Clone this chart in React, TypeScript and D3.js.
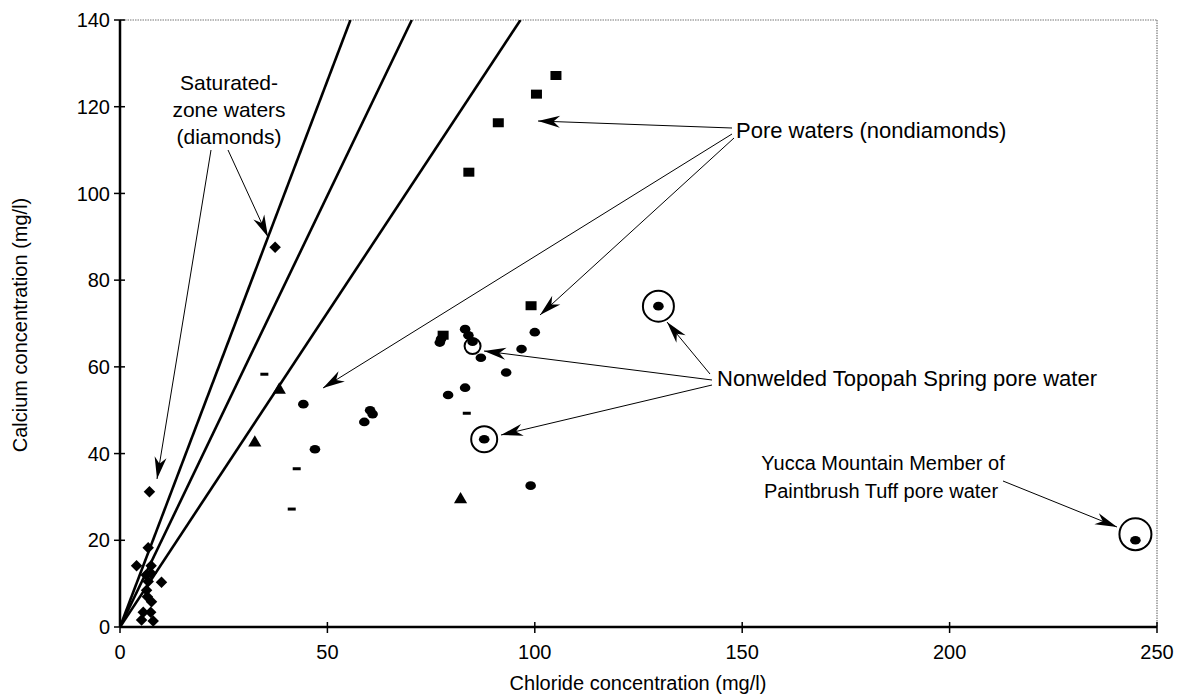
import * as d3 from 'd3';

// saturated-zone waters (diamonds) [chloride, calcium]
const diamonds: [number, number][] = [
  [37.4, 87.6], [7.1, 31.2], [6.8, 18.3], [4.0, 14.1], [7.5, 14.1], [7.5, 12.4],
  [6.3, 12.0], [10.0, 10.3], [6.8, 10.5], [6.4, 8.5], [6.6, 7.0], [7.6, 5.8],
  [5.6, 3.4], [7.4, 3.4], [5.2, 1.6], [8.0, 1.4],
];
// pore waters, round symbols
const dots: [number, number][] = [
  [44.2, 51.4], [60.3, 50.0], [60.9, 49.1], [58.9, 47.3], [47.0, 41.0],
  [83.2, 68.7], [84.0, 67.3], [85.0, 65.8], [77.1, 65.6], [77.4, 66.4], [87.0, 62.1],
  [96.8, 64.1], [100.0, 68.0], [93.1, 58.7], [83.2, 55.2], [79.1, 53.5],
  [87.8, 43.3], [99.0, 32.6], [129.8, 74.0], [244.8, 20.0],
];
const squares: [number, number][] = [
  [105.1, 127.2], [100.4, 122.9], [91.2, 116.3], [84.1, 104.9], [99.1, 74.1], [77.9, 67.3],
];
const triangles: [number, number][] = [[38.4, 54.7], [32.5, 42.5], [82.1, 29.4]];
const dashes: [number, number][] = [[34.8, 58.3], [42.6, 36.5], [41.4, 27.2], [83.6, 49.3]];
// ringed samples [chloride, calcium, ring radius px]
const rings: [number, number, number][] = [
  [85.0, 64.8, 8], [87.8, 43.3, 13], [129.8, 74.0, 15.5], [244.8, 21.4, 16],
];
// Ca/Cl ratio lines through origin
const ratios = [2.52, 1.99, 1.45];

const xTicks = [0, 50, 100, 150, 200, 250];
const yTicks = [0, 20, 40, 60, 80, 100, 120, 140];

const W = 1179;
const H = 696;
const x = d3.scaleLinear().domain([0, 250]).range([120, 1157]);
const y = d3.scaleLinear().domain([0, 140]).range([627, 20]);

const font = "'Liberation Sans', Arial, sans-serif";

// arrows in pixel space: [x1, y1, x2(tip), y2(tip)]
const arrows: [number, number, number, number][] = [
  [228, 150, 268, 237],
  [211, 150, 157, 479],
  [732, 128, 538, 121],
  [732, 134, 323, 388],
  [734, 138, 540, 315],
  [712, 380, 484, 351],
  [710, 374, 667, 322],
  [712, 385, 501, 435],
  [1003, 481, 1117, 527],
];

function arrowHead(x1: number, y1: number, x2: number, y2: number) {
  const a = Math.atan2(y2 - y1, x2 - x1);
  const L = 22;
  const w = 6;
  const pts = [
    [0, 0],
    [-L, w],
    [-0.7 * L, 0],
    [-L, -w],
  ].map(([px, py]) => [
    x2 + px * Math.cos(a) - py * Math.sin(a),
    y2 + px * Math.sin(a) + py * Math.cos(a),
  ]);
  return 'M' + pts.map((p) => p.join(',')).join('L') + 'Z';
}

const triPath = d3.symbol(d3.symbolTriangle, 75)()!;
const diaPath = d3.symbol(d3.symbolSquare, 66)()!;

export default function App() {
  return (
    <svg width={W} height={H} style={{ position: 'absolute', left: 0, top: 0, background: '#fff' }} fontFamily={font}>
      <defs>
        <clipPath id="plot">
          <rect x={x(0)} y={y(140)} width={x(250) - x(0)} height={y(0) - y(140)} />
        </clipPath>
      </defs>
      {/* frame */}
      <line x1={x(0)} x2={x(250)} y1={y(140)} y2={y(140)} stroke="#777" strokeDasharray="1.5,1" strokeWidth={1.2} />
      <line x1={x(250)} x2={x(250)} y1={y(140)} y2={y(0)} stroke="#777" strokeDasharray="1.5,1" strokeWidth={1.2} />
      <line x1={x(0)} x2={x(0)} y1={y(0)} y2={y(140)} stroke="#000" strokeWidth={2.5} />
      <line x1={x(0)} x2={x(250)} y1={y(0)} y2={y(0)} stroke="#000" strokeWidth={2.5} />
      {yTicks.map((t) => (
        <g key={'y' + t}>
          <line x1={x(0) - 6} x2={x(0) + 5} y1={y(t)} y2={y(t)} stroke="#000" strokeWidth={1.5} />
          <text x={x(0) - 10} y={y(t)} dy="0.36em" textAnchor="end" fontSize={20}>{t}</text>
        </g>
      ))}
      {xTicks.map((t) => (
        <g key={'x' + t}>
          <line x1={x(t)} x2={x(t)} y1={y(0) - 5} y2={y(0) + 6} stroke="#000" strokeWidth={1.5} />
          <text x={x(t)} y={y(0) + 32} textAnchor="middle" fontSize={20}>{t}</text>
        </g>
      ))}
      <text x={638} y={690} textAnchor="middle" fontSize={20}>Chloride concentration (mg/l)</text>
      <text transform={`translate(27,325) rotate(-90)`} textAnchor="middle" fontSize={20}>Calcium concentration (mg/l)</text>

      {/* ratio lines */}
      <g clipPath="url(#plot)">
        {ratios.map((r) => (
          <line key={r} x1={x(0)} y1={y(0)} x2={x(140 / r)} y2={y(140)} stroke="#000" strokeWidth={2.6} />
        ))}
      </g>

      {/* markers */}
      {diamonds.map(([cx, cy], i) => (
        <path key={'d' + i} d={diaPath} transform={`translate(${x(cx)},${y(cy)}) rotate(45)`} fill="#000" />
      ))}
      {dots.map(([cx, cy], i) => (
        <ellipse key={'o' + i} cx={x(cx)} cy={y(cy)} rx={5.3} ry={4.3} fill="#000" />
      ))}
      {squares.map(([cx, cy], i) => (
        <rect key={'s' + i} x={x(cx) - 5.5} y={y(cy) - 4.5} width={11} height={9} fill="#000" />
      ))}
      {triangles.map(([cx, cy], i) => (
        <path key={'t' + i} d={triPath} transform={`translate(${x(cx)},${y(cy)})`} fill="#000" />
      ))}
      {dashes.map(([cx, cy], i) => (
        <rect key={'m' + i} x={x(cx) - 4} y={y(cy) - 1.5} width={8} height={3} fill="#000" />
      ))}
      {rings.map(([cx, cy, r], i) => (
        <circle key={'r' + i} cx={x(cx)} cy={y(cy)} r={r} fill="none" stroke="#000" strokeWidth={2} />
      ))}

      {/* annotation arrows */}
      {arrows.map(([x1, y1, x2, y2], i) => (
        <g key={'a' + i}>
          <line x1={x1} y1={y1} x2={x2} y2={y2} stroke="#000" strokeWidth={1} />
          <path d={arrowHead(x1, y1, x2, y2)} fill="#000" />
        </g>
      ))}

      <g fontSize={21}>
        <text x={229} y={90} textAnchor="middle">Saturated-</text>
        <text x={229} y={117} textAnchor="middle">zone waters</text>
        <text x={229} y={144} textAnchor="middle">(diamonds)</text>
        <text x={736} y={138} fontSize={22}>Pore waters (nondiamonds)</text>
        <text x={717} y={386} fontSize={22}>Nonwelded Topopah Spring pore water</text>
        <text x={883} y={470} textAnchor="middle" fontSize={20}>Yucca Mountain Member of</text>
        <text x={881} y={498} textAnchor="middle" fontSize={20}>Paintbrush Tuff pore water</text>
      </g>
    </svg>
  );
}
